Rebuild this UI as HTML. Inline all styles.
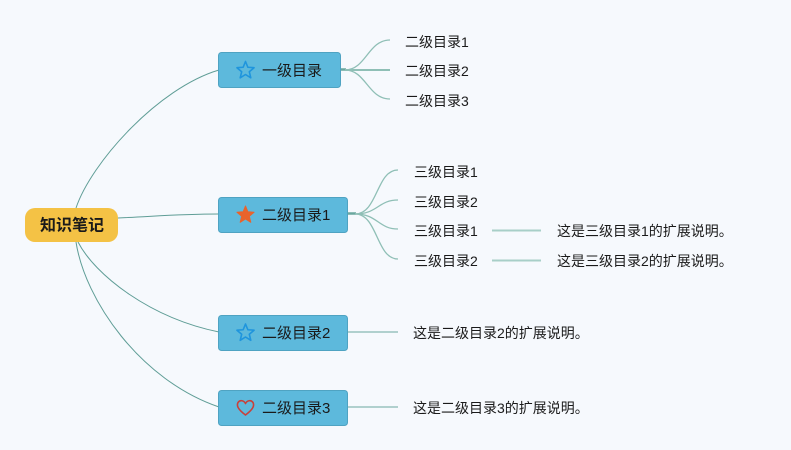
<!DOCTYPE html>
<html>
<head>
<meta charset="utf-8">
<style>
  html,body{margin:0;padding:0;background:#f6f9fd;}
  body{width:791px;height:450px;overflow:hidden;}
  svg{display:block;}
  text{font-family:"Liberation Sans","Noto Sans CJK SC",sans-serif;fill:#1a1a1a;}
</style>
</head>
<body>
<svg width="791" height="450" viewBox="0 0 791 450" xmlns="http://www.w3.org/2000/svg">
  <rect x="0" y="0" width="791" height="450" fill="#f6f9fd"/>

  <!-- main connectors -->
  <g fill="none" stroke="#5f9d96" stroke-width="1">
    <path d="M76,208 C91,163 158,88 219,70"/>
    <path d="M118,218 C160,216 180,214 219,214"/>
    <path d="M78,242 C95,275 150,318 219,332"/>
    <path d="M76,242 C85,300 140,380 219,407"/>
  </g>

  <!-- node1 branches -->
  <g fill="none" stroke="#8fbfb6" stroke-width="1.3">
    <path d="M340,69.5 L346,69.5" stroke-width="2.5" stroke="#6aa79f"/>
    <path d="M345,70 C366,70 368,40 390,40"/>
    <path d="M345,70 L390,70" stroke-width="2"/>
    <path d="M345,70 C366,70 368,99 390,99"/>
  </g>

  <!-- node2 branches -->
  <g fill="none" stroke="#8fbfb6" stroke-width="1.3">
    <path d="M347,213.5 L356,213.5" stroke-width="2.5" stroke="#6aa79f"/>
    <path d="M355,214 C378,214 376,170 398,170"/>
    <path d="M355,214 C378,214 378,200 398,200"/>
    <path d="M355,214 C378,214 378,229 398,229"/>
    <path d="M355,214 C378,214 376,259 398,259"/>
  </g>

  <!-- extension lines -->
  <g stroke="#a8cfc8" stroke-width="2">
    <line x1="492" y1="230.5" x2="541" y2="230.5"/>
    <line x1="492" y1="260.5" x2="541" y2="260.5"/>
  </g>
  <g stroke="#6aa79f" stroke-width="1">
    <line x1="348" y1="332" x2="398" y2="332"/>
    <line x1="348" y1="407" x2="398" y2="407"/>
  </g>

  <!-- root -->
  <rect x="25" y="208" width="93" height="34" rx="10" ry="10" fill="#f4c245"/>
  <text x="72" y="226" font-size="16" font-weight="bold" text-anchor="middle" dominant-baseline="central">知识笔记</text>

  <!-- node boxes -->
  <g fill="#5db9dc" stroke="#4fa3c2" stroke-width="1">
    <rect x="218.5" y="52.5" width="122" height="35" rx="3"/>
    <rect x="218.5" y="197.5" width="129" height="35" rx="3"/>
    <rect x="218.5" y="315.5" width="129" height="35" rx="3"/>
    <rect x="218.5" y="390.5" width="129" height="35" rx="3"/>
  </g>

  <!-- icons -->
  <path transform="translate(245.5,70.5)" d="M0,-9 L2.35,-3.24 L8.56,-2.78 L3.80,1.24 L5.29,7.28 L0,4 L-5.29,7.28 L-3.80,1.24 L-8.56,-2.78 L-2.35,-3.24 Z" fill="none" stroke="#1f95dd" stroke-width="1.6" stroke-linejoin="round"/>
  <path transform="translate(245.5,215)" d="M0,-9 L2.35,-3.24 L8.56,-2.78 L3.80,1.24 L5.29,7.28 L0,4 L-5.29,7.28 L-3.80,1.24 L-8.56,-2.78 L-2.35,-3.24 Z" fill="#e8632c" stroke="#e8632c" stroke-width="1" stroke-linejoin="round"/>
  <path transform="translate(245.5,333)" d="M0,-9 L2.35,-3.24 L8.56,-2.78 L3.80,1.24 L5.29,7.28 L0,4 L-5.29,7.28 L-3.80,1.24 L-8.56,-2.78 L-2.35,-3.24 Z" fill="none" stroke="#1f95dd" stroke-width="1.6" stroke-linejoin="round"/>
  <path transform="translate(245.5,408)" d="M0,7 C-8,1 -9,-2.5 -7.5,-5.5 C-5.5,-8.5 -1.5,-7.5 0,-4.5 C1.5,-7.5 5.5,-8.5 7.5,-5.5 C9,-2.5 8,1 0,7 Z" fill="none" stroke="#c9403a" stroke-width="1.6" stroke-linejoin="round"/>

  <!-- node texts -->
  <g font-size="15" dominant-baseline="central">
    <text x="262" y="71" dominant-baseline="central">一级目录</text>
    <text x="262" y="215.5" dominant-baseline="central">二级目录1</text>
    <text x="262" y="333.5" dominant-baseline="central">二级目录2</text>
    <text x="262" y="408.5" dominant-baseline="central">二级目录3</text>
  </g>

  <!-- leaf texts -->
  <g font-size="14">
    <text x="405" y="42" dominant-baseline="central">二级目录1</text>
    <text x="405" y="71" dominant-baseline="central">二级目录2</text>
    <text x="405" y="101" dominant-baseline="central">二级目录3</text>

    <text x="414" y="172" dominant-baseline="central">三级目录1</text>
    <text x="414" y="202" dominant-baseline="central">三级目录2</text>
    <text x="414" y="231" dominant-baseline="central">三级目录1</text>
    <text x="414" y="261" dominant-baseline="central">三级目录2</text>

    <text x="557" y="231" dominant-baseline="central">这是三级目录1的扩展说明。</text>
    <text x="557" y="261" dominant-baseline="central">这是三级目录2的扩展说明。</text>

    <text x="413" y="333" dominant-baseline="central">这是二级目录2的扩展说明。</text>
    <text x="413" y="408" dominant-baseline="central">这是二级目录3的扩展说明。</text>
  </g>
</svg>
</body>
</html>
